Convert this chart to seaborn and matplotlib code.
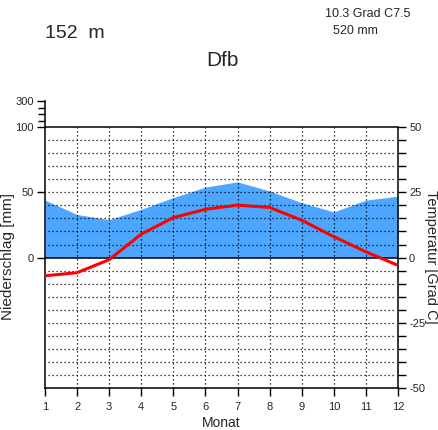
import numpy as np
import pandas as pd
import matplotlib
matplotlib.use("Agg")
import matplotlib.pyplot as plt
import seaborn as sns

months = list(range(1, 13))
precip_mm = [44, 33, 29, 37, 46, 54, 58, 51, 42, 35, 44, 47]
temp_c = [-7.0, -5.8, -0.8, 9.0, 15.3, 18.5, 20.1, 19.2, 14.3, 8.0, 2.2, -3.0]
elevation_text = "152  m"
climate_text = "Dfb"
info_line1 = "10.3 Grad C7.5"
info_line2 = "520 mm"

sns.set_theme(style="white")
plt.rcParams['font.family'] = ['Liberation Sans', 'DejaVu Sans']

df = pd.DataFrame({"Monat": months, "Niederschlag": precip_mm, "Temperatur": temp_c})
# precipitation: 2 mm = 1 degC below 100 mm
df["P_scaled"] = df["Niederschlag"] / 2.0

fig = plt.figure(figsize=(4.39, 4.30), dpi=100)
L, R = 45 / 439, 398 / 439
B, T = 42 / 430, (430 - 101) / 430
ax = fig.add_axes([L, B, R - L, T - B])
ymax = 50 + 200 / 10 / 2  # 100..300 mm at 1/10 scale
ax.set_xlim(1, 12)
ax.set_ylim(-50, ymax)

ax.fill_between(df["Monat"], 0, df["P_scaled"], color="#4da6ff", lw=0, zorder=1)

# grid
dot = (0, (1, 2.2))
for m in range(2, 12):
    ax.vlines(m, -50, 50, colors="black", linestyles=[dot], lw=0.9, zorder=2)
for t in range(-45, 50, 5):
    if t == 0:
        continue
    ax.hlines(t, 1.1, 11.92, colors="black", linestyles=[dot], lw=0.9, zorder=2)
ax.hlines([0, 50], 1, 12, colors="black", lw=1.1, zorder=3)

sns.lineplot(data=df, x="Monat", y="Temperatur", color="red", lw=2.2, ax=ax, zorder=4)

ax.spines["top"].set_visible(False)
ax.spines["left"].set_bounds(-50, ymax)
ax.spines["right"].set_bounds(-50, 50)
for s in ["left", "right", "bottom"]:
    ax.spines[s].set_color("black")
    ax.spines[s].set_linewidth(1.1)

ax.set_xticks(months)
ax.set_xticklabels([str(m) for m in months], fontsize=8)
ax.tick_params(axis="x", direction="out", length=6, width=1, color="black", bottom=True, pad=4)

left_pos = [0, 25, 50, ymax]
left_lab = ["0", "50", "100", "300"]
ax.set_yticks(left_pos)
ax.set_yticklabels(left_lab, fontsize=8)
ax.set_yticks([50 + k * 2.5 for k in range(1, 4)], minor=True)
ax.tick_params(axis="y", which="major", direction="out", length=6, width=1, color="black", left=True, pad=2)
ax.tick_params(axis="y", which="minor", direction="out", length=5, width=1, color="black", left=True)

ax2 = ax.twinx()
ax2.set_ylim(ax.get_ylim())
ax2.set_yticks([-50, -25, 0, 25, 50])
ax2.set_yticklabels(["-50", "-25", "0", "25", "50"], fontsize=8)
ax2.set_yticks(list(range(-45, 50, 5)), minor=True)
ax2.tick_params(axis="y", which="both", direction="out", length=6, width=1, color="black", right=True, pad=2)
for s in ["top", "left", "bottom", "right"]:
    ax2.spines[s].set_visible(False)

ax.set_xlabel("Monat", fontsize=10, labelpad=3)
ax.set_ylabel("")
fig.text(8 / 439, 1 - 257 / 430, "Niederschlag [mm]", rotation=90, fontsize=11, ha="center", va="center")
fig.text(431 / 439, 1 - 257 / 430, "Temperatur [Grad C]", rotation=270, fontsize=10.5, ha="center", va="center")

fig.text(45 / 439, 1 - 33 / 430, elevation_text, fontsize=14, ha="left", va="center")
fig.text(222 / 439, 1 - 60 / 430, climate_text, fontsize=15, ha="center", va="center")
fig.text(325 / 439, 1 - 14 / 430, info_line1, fontsize=9, ha="left", va="center")
fig.text(333 / 439, 1 - 31 / 430, info_line2, fontsize=9, ha="left", va="center")

fig.savefig("out.png", dpi=100, facecolor="white")
